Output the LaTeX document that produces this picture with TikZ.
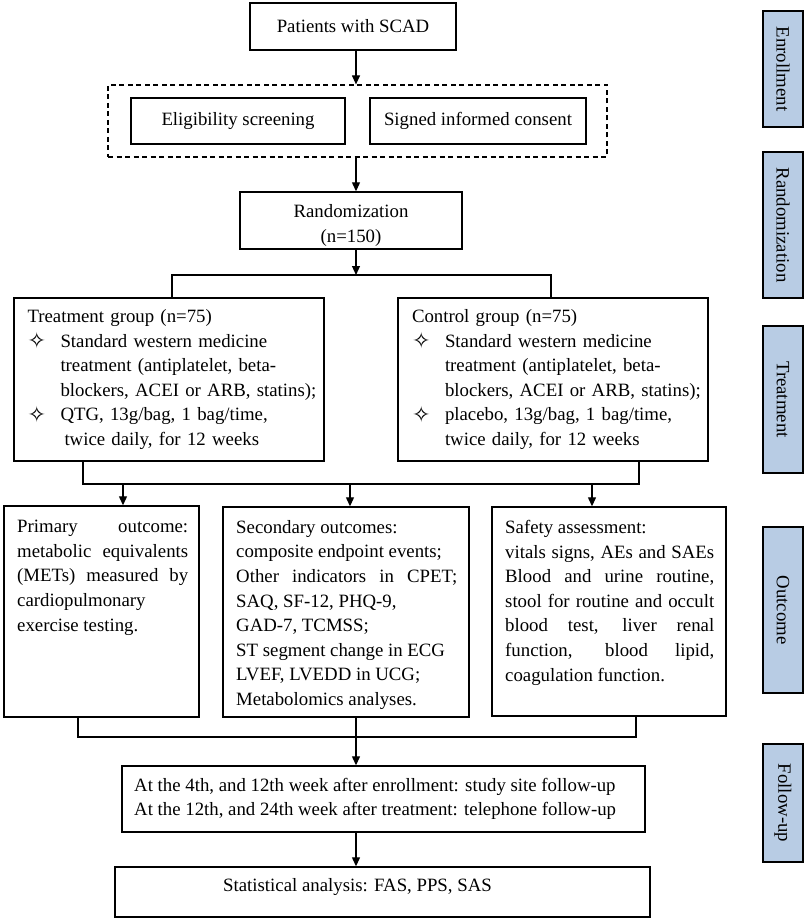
\documentclass[tikz,border=0pt]{standalone}
\usepackage{fontspec}
\setmainfont{Liberation Serif}
\newfontfamily\symfont{DejaVu Sans}
\usetikzlibrary{arrows.meta}
\definecolor{lblblue}{RGB}{184,204,228}
\newcommand{\jl}[2]{\makebox[#1][s]{#2}}
\newcommand{\bul}{\makebox[33pt][l]{\raisebox{-1.5pt}{\symfont\fontsize{22}{22}\selectfont ✧}}}
\begin{document}
\begin{tikzpicture}[x=1pt,y=-1pt,
  font=\fontsize{18.8}{24.6}\selectfont,
  box/.style={draw, line width=1.4pt, inner sep=0pt},
  lbl/.style={draw, line width=1.6pt, fill=lblblue, minimum height=40pt, inner sep=0pt, rotate=-90},
  arr/.style={line width=1.2pt, -{Triangle[length=9pt,width=8pt]}},
  ln/.style={line width=1.2pt},
  txt/.style={inner sep=0pt, align=left, anchor=north west}]
\useasboundingbox (0,0) rectangle (810,920);

% main column
\node[box, minimum width=206pt, minimum height=47pt] (pat) at (353,26.5) {Patients with SCAD};
\node[draw, dashed, dash pattern=on 5pt off 3.5pt, line width=1.2pt, inner sep=0pt, minimum width=499pt, minimum height=72pt] (scr) at (357.5,121) {};
\node[box, minimum width=214pt, minimum height=46pt] (elig) at (238,121) {Eligibility screening};
\node[box, minimum width=216pt, minimum height=46pt] (cons) at (478,121) {Signed informed consent};
\node[box, minimum width=222pt, minimum height=57pt] (rand) at (351,220.5) {};
\node[inner sep=0pt, align=center] (randt) at (351,225.5) {Randomization\\(n=150)};

\node[box, minimum width=310pt, minimum height=163pt, text width=283pt, align=left] (treat) at (169,379.5)
{Treatment group (n=75)\\
\bul\jl{250pt}{Standard western medicine}\\
\hspace*{33pt}\jl{250pt}{treatment (antiplatelet, beta-}\\
\hspace*{33pt}\jl{250pt}{blockers, ACEI or ARB, statins);}\\
\bul QTG, 13g/bag, 1 bag/time,\\
\hspace*{37pt}twice daily, for 12 weeks};

\node[box, minimum width=310pt, minimum height=163pt, text width=282pt, align=left] (ctrl) at (553,379.5)
{Control group (n=75)\\
\bul\jl{249pt}{Standard western medicine}\\
\hspace*{33pt}\jl{249pt}{treatment (antiplatelet, beta-}\\
\hspace*{33pt}\jl{249pt}{blockers, ACEI or ARB, statins);}\\
\bul\jl{249pt}{placebo, 13g/bag, 1 bag/time,}\\
\hspace*{33pt}twice daily, for 12 weeks};

\node[box, minimum width=195pt, minimum height=211pt] (prim) at (101.5,611.5) {};
\node[box, minimum width=246pt, minimum height=210pt] (sec) at (346,612) {};
\node[box, minimum width=234pt, minimum height=209pt] (safe) at (609,611.5) {};

\node[txt] (primt) at (17,520)
{\jl{171pt}{Primary outcome:}\\
\jl{171pt}{metabolic equivalents}\\
\jl{171pt}{(METs) measured by}\\
cardiopulmonary\\
exercise testing.};

\node[txt] (sect) at (236,520)
{Secondary outcomes:\\
composite endpoint events;\\
\jl{221pt}{Other indicators in CPET;}\\
SAQ, SF-12, PHQ-9,\\
GAD-7, TCMSS;\\
ST segment change in ECG\\
LVEF, LVEDD in UCG;\\
Metabolomics analyses.};

\node[txt] (safet) at (505,520)
{Safety assessment:\\
\jl{209pt}{vitals signs, AEs and SAEs}\\
\jl{209pt}{Blood and urine routine,}\\
\jl{209pt}{stool for routine and occult}\\
\jl{209pt}{blood test, liver renal}\\
\jl{209pt}{function, blood lipid,}\\
coagulation function.};

\node[box, minimum width=523pt, minimum height=66pt] (fol) at (383.5,799) {};
\node[inner sep=0pt, align=left, anchor=west] (folt) at (134,799)
{At the 4th, and 12th week after enrollment: study site follow-up\\
At the 12th, and 24th week after treatment: telephone follow-up};

\node[box, minimum width=535pt, minimum height=50pt] (stat) at (382.5,892) {};
\node[inner sep=0pt] (statt) at (357.5,887) {Statistical analysis: FAS, PPS, SAS};

% side labels
\node[lbl, minimum width=116pt] (lenr) at (783,69) {Enrollment};
\node[lbl, minimum width=146pt] (lrnd) at (783,225) {Randomization};
\node[lbl, minimum width=147pt] (ltrt) at (783,399.5) {Treatment};
\node[lbl, minimum width=166pt] (lout) at (783,610) {Outcome};
\node[lbl, minimum width=118pt] (lfu) at (783,803) {Follow-up};

% connectors
\coordinate (mx) at (356,0);
\draw[arr] (pat.south -| mx) -- (scr.north -| mx);
\draw[arr] (scr.south -| mx) -- (rand.north -| mx);
\coordinate (j1) at (356,275);
\coordinate (tl) at (172,275);
\coordinate (tr) at (551,275);
\draw[arr] (rand.south -| mx) -- (j1);
\draw[ln] (treat.north -| tl) -- (tl) -- (tr) -- (ctrl.north -| tr);

\coordinate (bl) at (83,484);
\coordinate (br) at (639,484);
\draw[ln] (treat.south -| bl) -- (bl) -- (br) -- (ctrl.south -| br);
\coordinate (a1) at (123,484);
\coordinate (a2) at (350,484);
\coordinate (a3) at (592,484);
\draw[arr] (a1) -- (prim.north -| a1);
\draw[arr] (a2) -- (sec.north -| a2);
\draw[arr] (a3) -- (safe.north -| a3);

\coordinate (cl) at (78,737);
\coordinate (cr) at (636,737);
\coordinate (cm) at (356,737);
\draw[ln] (prim.south -| cl) -- (cl) -- (cr) -- (safe.south -| cr);
\draw[ln] (sec.south -| cm) -- (cm);
\draw[arr] (cm) -- (fol.north -| cm);
\draw[arr] (fol.south -| mx) -- (stat.north -| mx);
\end{tikzpicture}
\end{document}
